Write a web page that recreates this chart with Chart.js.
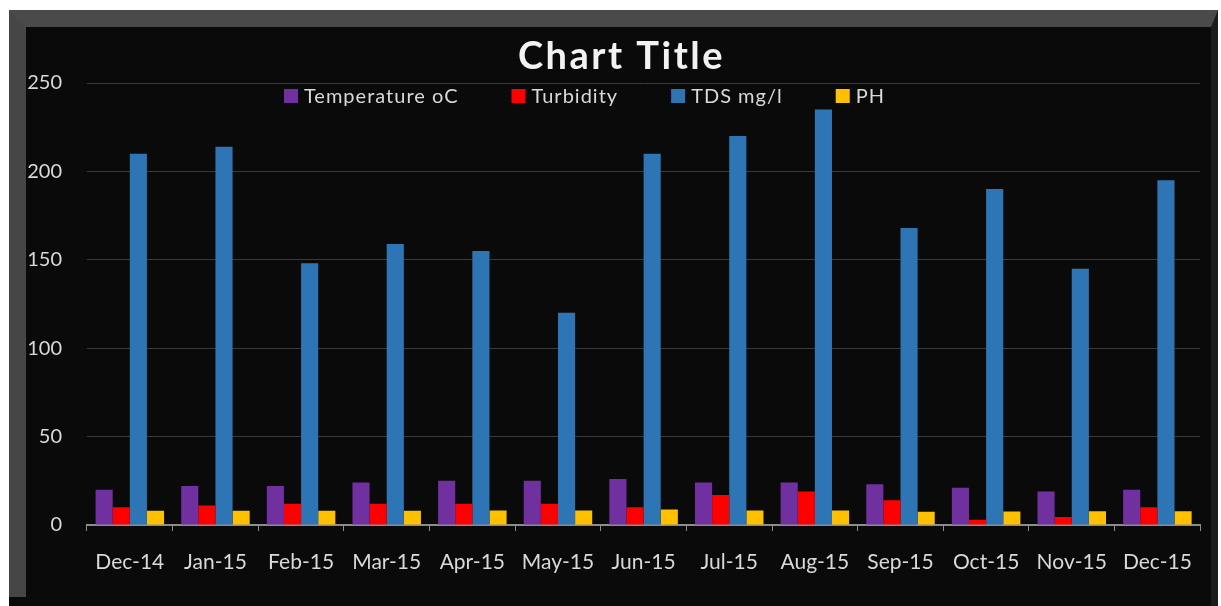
<!DOCTYPE html>
<html>
<head>
<meta charset="utf-8">
<script src="https://cdn.jsdelivr.net/npm/chart.js@4.4.1/dist/chart.umd.min.js"></script>
<style>
  html, body { margin: 0; padding: 0; background: #ffffff; }
  body { width: 1221px; height: 606px; position: relative; overflow: hidden; }
  .frame {
    position: absolute; left: 9px; top: 10px;
    width: 1185px; height: 579px;
    border-left: 17px solid #464646;
    border-top: 17px solid #4a4a4a;
    border-right: 7px solid #1c1c1c;
    background: #0a0a0a;
  }
  .frame::after {
    content: ""; position: absolute; left: -17px; top: 570px;
    width: 17px; height: 9px; background: #0a0a0a;
  }
  .frame canvas { display: block; }
</style>
</head>
<body>
<div class="frame"><canvas id="chart" width="1185" height="579"></canvas></div>
<script>
// values
const months = ["Dec-14", "Jan-15", "Feb-15", "Mar-15", "Apr-15", "May-15", "Jun-15",
                "Jul-15", "Aug-15", "Sep-15", "Oct-15", "Nov-15", "Dec-15"]
const temperature = [20, 22, 22, 24, 25, 25, 26, 24, 24, 23, 21, 19, 20]
const turbidity = [10, 11, 12, 12, 12, 12, 10, 17, 19, 14, 3, 4.5, 10]
const tds = [210, 214, 148, 159, 155, 120, 210, 220, 235, 168, 190, 145, 195]
const ph = [8, 8, 8, 8, 8.2, 8.2, 8.8, 8.2, 8.2, 7.5, 7.6, 7.8, 7.8]
const yTicks = [0, 50, 100, 150, 200, 250]

const textColor = "#d9d9d9"
const font = "Lato, 'Open Sans', sans-serif"

// Excel-style title and legend; the legend sits just inside the top of the plot area
const excelHeader = {
  id: "excelHeader",
  afterDraw(chart) {
    const ctx = chart.ctx
    ctx.save()

    ctx.font = `bold 38px ${font}`
    ctx.letterSpacing = "2.5px"
    ctx.fillStyle = "#f2f2f2"
    ctx.textAlign = "center"
    ctx.textBaseline = "middle"
    ctx.fillText("Chart Title", chart.width / 2 + 3, 30)

    const box = 14, gap = 6, spacing = 53
    ctx.font = `20px ${font}`
    ctx.letterSpacing = "1px"
    ctx.textAlign = "left"
    const items = chart.data.datasets.map(ds => ({
      text: ds.label,
      color: ds.backgroundColor,
      width: box + gap + ctx.measureText(ds.label).width
    }))
    const total = items.reduce((s, it) => s + it.width, 0) + spacing * (items.length - 1)
    let x = chart.width / 2 - 34 - total / 2
    const y = chart.chartArea.top + 13
    items.forEach(it => {
      ctx.fillStyle = it.color
      ctx.fillRect(x, y - box / 2, box, box)
      ctx.fillStyle = textColor
      ctx.fillText(it.text, x + box + gap, y + 1)
      x += it.width + spacing
    })
    ctx.restore()
  }
}

new Chart(document.getElementById("chart"), {
  type: "bar",
  data: {
    labels: months,
    datasets: [
      { label: "Temperature oC", data: temperature, backgroundColor: "#7030a0" },
      { label: "Turbidity", data: turbidity, backgroundColor: "#ff0000" },
      { label: "TDS mg/l", data: tds, backgroundColor: "#2e75b6" },
      { label: "PH", data: ph, backgroundColor: "#ffc000" }
    ]
  },
  options: {
    responsive: false,
    animation: false,
    datasets: { bar: { categoryPercentage: 0.8, barPercentage: 1.0 } },
    layout: { padding: { left: 0, right: 4, top: 56, bottom: 0 } },
    plugins: {
      legend: { display: false },
      tooltip: { enabled: false },
      title: { display: false }
    },
    scales: {
      x: {
        grid: { drawOnChartArea: false, drawTicks: true, tickLength: 6, color: "#8c8c8c", offset: true },
        border: { display: true, color: "#8c8c8c", width: 2 },
        ticks: { color: textColor, font: { family: font, size: 21 }, padding: 19, maxRotation: 0 },
        afterFit(scale) { scale.height = 81 }
      },
      y: {
        min: 0,
        max: 250,
        afterBuildTicks(scale) { scale.ticks = yTicks.map(v => ({ value: v })) },
        grid: { color: "#3a3a3a", drawTicks: false },
        border: { display: false },
        ticks: { color: textColor, font: { family: font, size: 20 }, padding: 25 },
        afterFit(scale) { scale.width = 61 }
      }
    }
  },
  plugins: [excelHeader]
})
</script>
</body>
</html>
